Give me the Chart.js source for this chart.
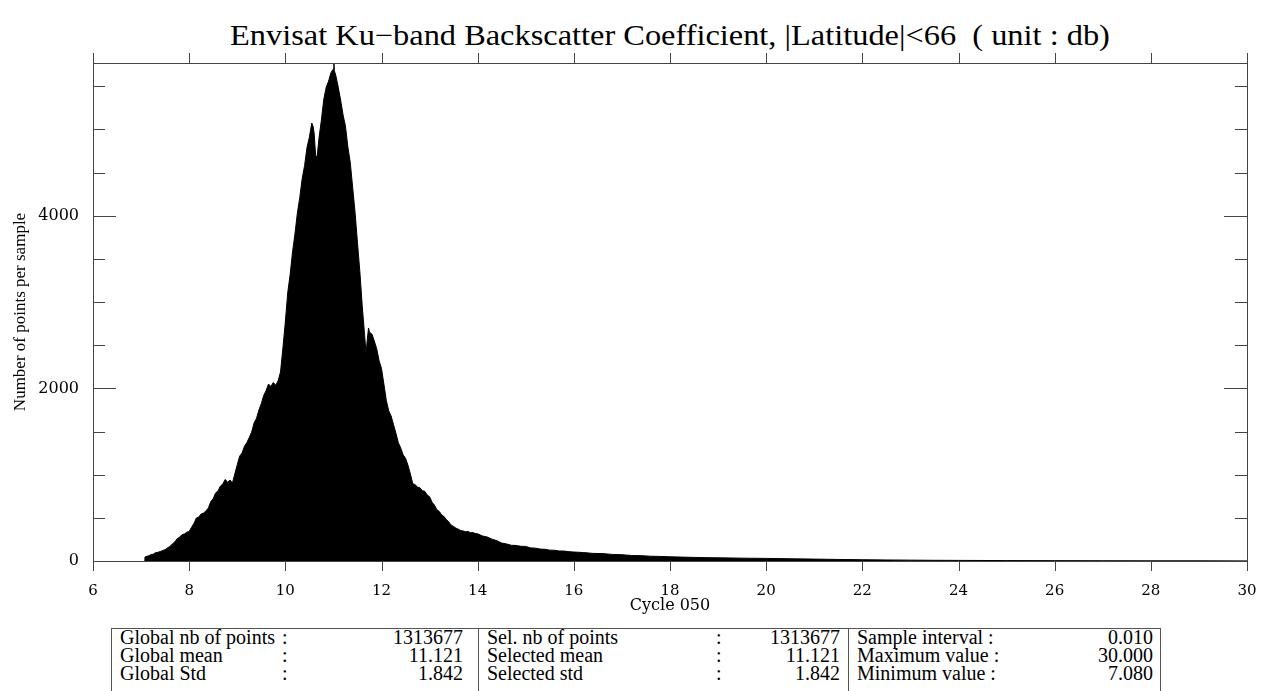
<!DOCTYPE html>
<html>
<head>
<meta charset="utf-8">
<script src="https://cdn.jsdelivr.net/npm/chart.js@4.4.1/dist/chart.umd.min.js"></script>
<style>
  body { margin:0; background:#fff; width:1261px; height:691px; overflow:hidden; position:relative; font-family:'Liberation Serif', 'Times New Roman', serif; color:#000; }
  #title { position:absolute; left:230px; top:19px; font-size:29px; line-height:32px; white-space:pre; transform-origin:0 50%; }
  #wrap { position:absolute; left:0; top:0; width:1261px; height:620px; }
  .line { position:absolute; background:#555; }
  .cell { position:absolute; font-size:20px; line-height:18px; white-space:pre; }
  .right { text-align:right; }
</style>
</head>
<body>
<div id="title">Envisat Ku−band Backscatter Coefficient, |Latitude|&lt;66  ( unit : db)</div>
<div id="wrap"><canvas id="chart"></canvas></div>
<script>
const $ = id => document.getElementById(id);

// histogram silhouette, bin centre (db) -> number of points per 0.01 sample
const binCenters = [
  7.07, 7.08, 7.10, 7.15, 7.20, 7.25, 7.30, 7.35, 7.40, 7.45, 7.50, 7.55, 7.60, 7.65, 7.70, 7.75, 7.80, 7.85, 7.90, 7.95,
  8.00, 8.05, 8.10, 8.15, 8.20, 8.25, 8.30, 8.35, 8.40, 8.45, 8.50, 8.55, 8.60, 8.65, 8.70, 8.75, 8.80, 8.85, 8.90, 8.95,
  9.00, 9.05, 9.10, 9.15, 9.20, 9.25, 9.30, 9.35, 9.40, 9.45, 9.50, 9.55, 9.60, 9.65, 9.70, 9.75, 9.80, 9.85, 9.90, 9.95,
  10.00, 10.05, 10.10, 10.15, 10.20, 10.25, 10.30, 10.35, 10.40, 10.45, 10.50, 10.55, 10.58, 10.60, 10.63, 10.66, 10.70, 10.75,
  10.80, 10.85, 10.90, 10.95, 11.00, 11.01, 11.02, 11.05, 11.10, 11.15, 11.20, 11.25, 11.30, 11.35, 11.40, 11.45, 11.50,
  11.55, 11.60, 11.65, 11.68, 11.70, 11.73, 11.75, 11.80, 11.85, 11.90, 11.95, 12.00, 12.05, 12.10, 12.15, 12.20, 12.25,
  12.30, 12.35, 12.40, 12.45, 12.50, 12.55, 12.60, 12.65, 12.70, 12.75, 12.80, 12.85, 12.90, 12.95, 13.00, 13.05, 13.10,
  13.15, 13.20, 13.25, 13.30, 13.35, 13.40, 13.45, 13.50, 13.55, 13.60, 13.65, 13.70, 13.75, 13.80, 13.85, 13.90, 13.95,
  14.00, 14.10, 14.20, 14.30, 14.40, 14.50, 14.60, 14.70, 14.80, 14.90, 15.00, 15.10, 15.20, 15.30, 15.40, 15.50, 15.60,
  15.70, 15.80, 15.90, 16.00, 16.20, 16.40, 16.60, 16.80, 17.00, 17.20, 17.40, 17.60, 17.80, 18.00, 18.25, 18.50, 18.75,
  19.00, 19.50, 20.00, 20.50, 21.00, 21.50, 22.00, 22.50, 23.00, 23.50, 24.00, 25.00, 26.00, 27.00, 28.00, 29.00, 30.00
];
const counts = [
  0, 45, 52, 58, 72, 78, 96, 101, 110, 122, 131, 152, 168, 198, 221, 258, 276, 305, 312, 334,
  342, 390, 436, 498, 510, 546, 556, 580, 615, 688, 722, 789, 812, 868, 893, 945, 912, 938, 905, 1010,
  1115, 1215, 1252, 1330, 1372, 1431, 1494, 1600, 1652, 1748, 1822, 1918, 1975, 2050, 2022, 2068, 2035, 2088, 2190, 2470,
  2770, 3110, 3320, 3580, 3790, 4030, 4210, 4430, 4580, 4790, 4910, 5075, 5030, 4950, 4700, 4680, 4900, 5110,
  5350, 5490, 5560, 5660, 5700, 5765, 5680, 5625, 5490, 5340, 5170, 5040, 4800, 4620, 4330, 4040, 3690,
  3350, 2950, 2610, 2400, 2540, 2700, 2650, 2630, 2550, 2460, 2320, 2230, 2050, 1860, 1740, 1680, 1580,
  1480, 1370, 1310, 1230, 1190, 1110, 1010, 895, 885, 855, 848, 815, 808, 765, 745, 682, 648,
  595, 575, 535, 515, 480, 452, 415, 400, 380, 368, 352, 348, 338, 342, 328, 330, 318,
  315, 290, 278, 252, 236, 208, 198, 182, 180, 170, 169, 152, 149, 138, 136, 126, 124,
  116, 115, 108, 104, 98, 88, 86, 76, 73, 64, 62, 55, 53, 49, 45, 42, 39,
  37, 33, 30, 26, 22, 18, 15, 12, 10, 8, 7, 5, 4, 3, 2, 2, 1
];

const xTicks = [6, 8, 10, 12, 14, 16, 18, 20, 22, 24, 26, 28, 30];
const yTicks = [0, 2000, 4000];
const yMinorStep = 500;
const xRange = [6, 30];
const yRange = [0, 5770];

const statLabels1 = ['Global nb of points', 'Global mean', 'Global Std'];
const statValues1 = ['1313677', '11.121', '1.842'];
const statLabels2 = ['Sel. nb of points', 'Selected mean', 'Selected std'];
const statValues2 = ['1313677', '11.121', '1.842'];
const statLabels3 = ['Sample interval :', 'Maximum value :', 'Minimum value :'];
const statValues3 = ['0.010', '30.000', '7.080'];

// frame + IDL style ticks: inward on y, outward on x
const frameTicks = {
  id: 'frameTicks',
  afterDraw(chart) {
    const {ctx, chartArea: a, scales: {x, y}} = chart;
    ctx.save();
    ctx.strokeStyle = '#444';
    ctx.lineWidth = 1;
    ctx.strokeRect(Math.round(a.left) + 0.5, Math.round(a.top) + 0.5, Math.round(a.right - a.left), Math.round(a.bottom - a.top));
    ctx.beginPath();
    xTicks.forEach(v => {
      const px = Math.round(x.getPixelForValue(v)) + 0.5;
      ctx.moveTo(px, a.bottom); ctx.lineTo(px, a.bottom + 10);
      ctx.moveTo(px, a.top); ctx.lineTo(px, a.top - 10);
    });
    for (let v = yRange[0] + yMinorStep; v < yRange[1]; v += yMinorStep) {
      const py = Math.round(y.getPixelForValue(v)) + 0.5;
      const len = yTicks.includes(v) ? 23 : 12;
      ctx.moveTo(a.left, py); ctx.lineTo(a.left + len, py);
      ctx.moveTo(a.right, py); ctx.lineTo(a.right - len, py);
    }
    ctx.stroke();
    ctx.restore();
  }
};

new Chart($('chart'), {
  type: 'line',
  data: {
    datasets: [{
      data: binCenters.map((c, i) => ({x: c, y: counts[i]})),
      borderColor: '#000',
      backgroundColor: '#000',
      borderWidth: 1,
      fill: 'origin',
      pointRadius: 0,
      tension: 0
    }]
  },
  options: {
    responsive: true,
    maintainAspectRatio: false,
    animation: false,
    layout: {padding: {left: 0, top: 63, right: 14, bottom: 0}},
    plugins: {legend: {display: false}, tooltip: {enabled: false}, title: {display: false}},
    scales: {
      x: {
        type: 'linear', min: xRange[0], max: xRange[1],
        afterBuildTicks: s => { s.ticks = xTicks.map(v => ({value: v})); },
        afterFit: s => { s.height = 59; s.paddingLeft = 0; s.paddingRight = 0; },
        grid: {display: false}, border: {display: false},
        ticks: {color: '#000', padding: 13, maxRotation: 0, font: {family: 'DejaVu Serif', size: 15}},
        title: {display: true, text: 'Cycle 050', color: '#000', padding: {top: 0, bottom: 5}, font: {family: 'DejaVu Serif', size: 16}}
      },
      y: {
        min: yRange[0], max: yRange[1],
        afterBuildTicks: s => { s.ticks = yTicks.map(v => ({value: v})); },
        afterFit: s => { s.width = 93; },
        grid: {display: false}, border: {display: false},
        ticks: {color: '#000', padding: 6, font: {family: 'DejaVu Serif', size: 16}, callback: v => String(v)},
        title: {display: true, text: 'Number of points per sample', color: '#000', padding: {top: 10, bottom: 0}, font: {family: 'Liberation Serif', size: 17}}
      }
    }
  },
  plugins: [frameTicks]
});

// stretch title to the reference width
const t = $('title');
t.style.transform = `scaleX(${880 / t.offsetWidth})`;

// statistics box under the plot
function addEl(cls, style, text) {
  const d = document.createElement('div');
  d.className = cls;
  Object.assign(d.style, style);
  if (text !== undefined) d.textContent = text;
  document.body.appendChild(d);
}
addEl('line', {left:'111px', top:'628px', width:'1050px', height:'1px'});
addEl('line', {left:'111px', top:'628px', width:'1px', height:'70px'});
addEl('line', {left:'1160px', top:'628px', width:'1px', height:'70px'});
addEl('line', {left:'478px', top:'628px', width:'1px', height:'70px'});
addEl('line', {left:'848px', top:'628px', width:'1px', height:'70px'});
const rowTops = [628, 646, 664];
rowTops.forEach((top, i) => {
  addEl('cell', {left:'120px', top:top + 'px'}, statLabels1[i]);
  addEl('cell', {left:'282px', top:top + 'px'}, ':');
  addEl('cell right', {left:'363px', width:'100px', top:top + 'px'}, statValues1[i]);
  addEl('cell', {left:'487px', top:top + 'px'}, statLabels2[i]);
  addEl('cell', {left:'716px', top:top + 'px'}, ':');
  addEl('cell right', {left:'740px', width:'100px', top:top + 'px'}, statValues2[i]);
  addEl('cell', {left:'857px', top:top + 'px'}, statLabels3[i]);
  addEl('cell right', {left:'1053px', width:'100px', top:top + 'px'}, statValues3[i]);
});
</script>
</body>
</html>
